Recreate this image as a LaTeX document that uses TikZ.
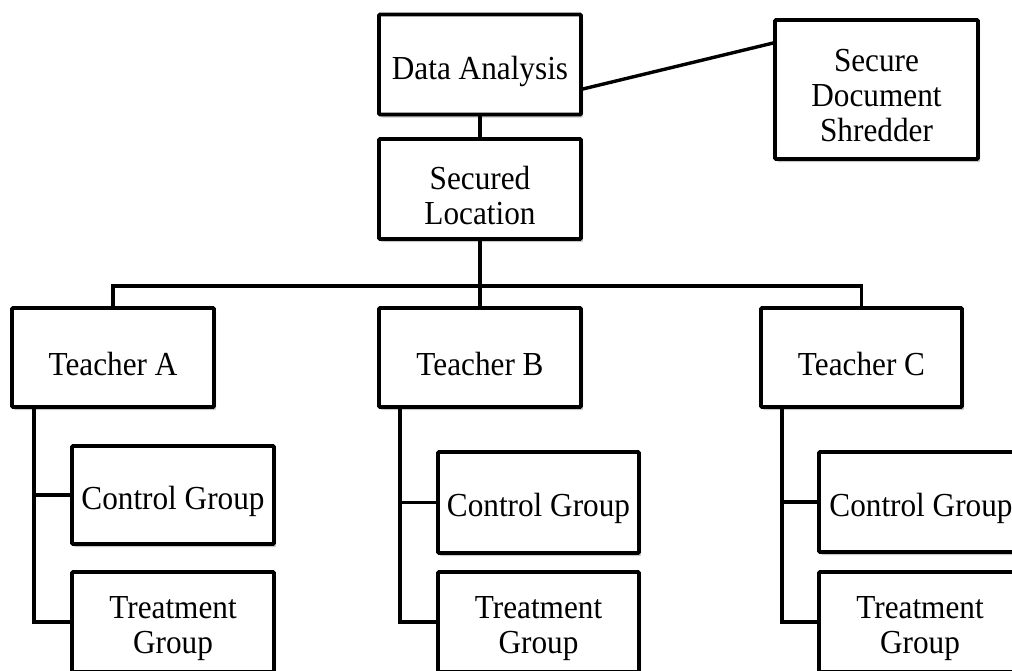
\documentclass[tikz,border=0pt]{standalone}
\usepackage{fontspec}
\setmainfont[FakeStretch=0.93]{Liberation Serif}
\usetikzlibrary{shadows}
\begin{document}
\begin{tikzpicture}[x=1pt,y=-1pt,
  box/.style={draw=black, line width=3.6pt, fill=white, rounded corners=1pt,
    minimum width=202pt, minimum height=100pt, inner sep=0pt,
    drop shadow={shadow xshift=2pt, shadow yshift=-3pt, opacity=0.3, fill=black!70}},
  txt/.style={inner sep=0pt, align=center, font=\fontsize{33.6}{35}\selectfont},
  conn/.style={draw=black, line width=3.4pt}]
\useasboundingbox (0,0) rectangle (1012,670);
\node[box] (da) at (480,64.5) {};
\node[box] (sl) at (480,189) {};
\node[box, minimum height=139pt, minimum width=203pt] (sh) at (876.5,89.5) {};
\node[box, minimum height=99pt] (ta) at (113,357.5) {};
\node[box, minimum height=99pt] (tb) at (480,357.5) {};
\node[box, minimum height=99pt, minimum width=201pt] (tc) at (861.5,357.5) {};
\node[box, minimum height=98pt] (ca) at (173,495) {};
\node[box, minimum height=101pt, minimum width=201pt] (cb) at (538.5,502.5) {};
\node[box] (cc) at (920,502) {};
\node[box] (ra) at (173,622) {};
\node[box, minimum width=201pt] (rb) at (538.5,622) {};
\node[box] (rc) at (920,622) {};
\node[txt] (da-t) at ([yshift=-6.5pt]da.center) {Data Analysis};
\node[txt] (sl-t) at ([yshift=-7pt]sl.center) {Secured\\Location};
\node[txt] (sh-t) at ([yshift=-6pt]sh.center) {Secure\\Document\\Shredder};
\node[txt] (ta-t) at ([yshift=-6.5pt]ta.center) {Teacher A};
\node[txt] (tb-t) at ([yshift=-6.5pt]tb.center) {Teacher B};
\node[txt] (tc-t) at ([yshift=-6.5pt]tc.center) {Teacher C};
\node[txt] (ca-t) at ([yshift=-6pt]ca.center) {Control Group};
\node[txt] (cb-t) at ([yshift=-6pt]cb.center) {Control Group};
\node[txt] (cc-t) at ([yshift=-6pt,xshift=1pt]cc.center) {Control Group};
\node[txt] (ra-t) at ([yshift=-6.5pt]ra.center) {Treatment\\Group};
\node[txt] (rb-t) at ([yshift=-6.5pt]rb.center) {Treatment\\Group};
\node[txt] (rc-t) at ([yshift=-6.5pt]rc.center) {Treatment\\Group};
\coordinate (bus) at (480,286);
\draw[conn] (da.south) -- (sl.north);
\draw[conn] ([yshift=-24.5pt]da.east) -- ([yshift=46.5pt]sh.west);
\draw[conn] (sl.south) -- (bus);
\draw[conn] (ta.north) |- (bus) -| (tc.north);
\draw[conn] (bus) -- (tb.north);
\draw[conn] ([xshift=-79pt]ta.south) |- (ca.west);
\draw[conn] ([xshift=-79pt]ta.south) |- (ra.west);
\draw[conn] ([xshift=-80pt]tb.south) |- (cb.west);
\draw[conn] ([xshift=-80pt]tb.south) |- (rb.west);
\draw[conn] ([xshift=-79.5pt]tc.south) |- (cc.west);
\draw[conn] ([xshift=-79.5pt]tc.south) |- (rc.west);
\end{tikzpicture}
\end{document}
